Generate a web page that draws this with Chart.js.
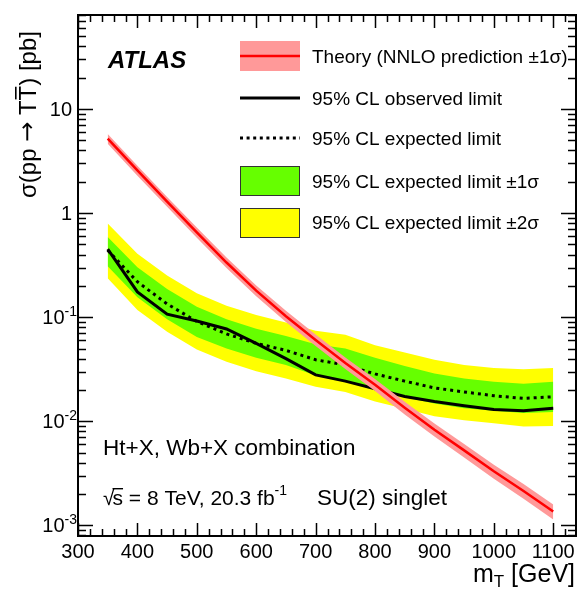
<!DOCTYPE html>
<html>
<head>
<meta charset="utf-8">
<script src="https://cdn.jsdelivr.net/npm/chart.js@4.4.1/dist/chart.umd.min.js"></script>
<style>
  html, body { margin: 0; padding: 0; background: #fff; }
  #limitChart { display: block; }
</style>
</head>
<body>
<canvas id="limitChart" width="577" height="589"></canvas>
<script>
// T mass points [GeV]
const massPoints = [350, 400, 450, 500, 550, 600, 650, 700, 750, 800, 850, 900, 950, 1000, 1050, 1100];

// theory cross-section (NNLO) and its +-1 sigma band [pb]
const theoryXsec = [5.19, 2.57, 1.29, 0.653, 0.335, 0.180, 0.102, 0.0603, 0.0363, 0.0224, 0.0135, 0.0083, 0.00525, 0.00331, 0.00214, 0.00136];
const theoryUp   = [5.75, 2.85, 1.43, 0.728, 0.375, 0.202, 0.115, 0.0680, 0.0410, 0.0254, 0.0154, 0.00950, 0.00604, 0.00383, 0.00249, 0.00159];
const theoryDown = [4.64, 2.29, 1.15, 0.580, 0.296, 0.159, 0.0898, 0.0528, 0.0317, 0.0195, 0.0116, 0.00712, 0.00448, 0.00280, 0.00180, 0.00114];

// 95% CL limits [pb]
const observedLimit = [0.45, 0.175, 0.107, 0.092, 0.077, 0.056, 0.040, 0.0279, 0.0243, 0.0205, 0.0173, 0.0155, 0.0141, 0.0130, 0.01265, 0.0133];
const expectedLimit = [0.44, 0.219, 0.134, 0.091, 0.069, 0.056, 0.048, 0.039, 0.0347, 0.0285, 0.0243, 0.0209, 0.0191, 0.0176, 0.0166, 0.0172];
const expected1sUp   = [0.589, 0.302, 0.186, 0.126, 0.0955, 0.0776, 0.0661, 0.0550, 0.0501, 0.0407, 0.0339, 0.0288, 0.0257, 0.0240, 0.0229, 0.0240];
const expected1sDown = [0.309, 0.155, 0.0955, 0.0646, 0.0501, 0.0407, 0.0347, 0.0275, 0.0245, 0.0200, 0.0170, 0.0148, 0.0133, 0.0126, 0.0120, 0.0123];
const expected2sUp   = [0.794, 0.407, 0.251, 0.170, 0.129, 0.105, 0.0891, 0.0741, 0.0676, 0.0537, 0.0457, 0.0389, 0.0347, 0.0324, 0.0316, 0.0324];
const expected2sDown = [0.237, 0.117, 0.0724, 0.0490, 0.0372, 0.0302, 0.0257, 0.0214, 0.0191, 0.0155, 0.0132, 0.0112, 0.0102, 0.00955, 0.00891, 0.00902];

// axis tick labels
const xTickLabels = ['300', '400', '500', '600', '700', '800', '900', '1000', '1100'];
const yTickLabels = [[0.001, '10', '-3'], [0.01, '10', '-2'], [0.1, '10', '-1'], [1, '1', ''], [10, '10', '']];

const FONT = '"Liberation Sans", Arial, Helvetica, sans-serif';
const YELLOW = '#ffff00';
const GREEN = '#66ff00';
const PINK = '#ff9999';
const RED = '#ff0000';

function pts(values) {
    return massPoints.map((m, i) => ({ x: m, y: values[i] }));
}

function band(values, color, fill, order) {
    return {
        data: pts(values),
        borderWidth: 0,
        pointRadius: 0,
        backgroundColor: color,
        fill: fill,
        order: order
    };
}

// ROOT-style frame, ticks, legend and labels
const rootDecor = {
    id: 'rootDecor',
    afterDatasetsDraw(chart) {
        const ctx = chart.ctx;
        const a = chart.chartArea;
        const xs = chart.scales.x;
        const ys = chart.scales.y;
        ctx.save();

        // frame
        ctx.strokeStyle = '#000';
        ctx.lineWidth = 2;
        ctx.strokeRect(a.left, a.top, a.right - a.left - 1, a.bottom - a.top);

        // x ticks (bottom and top)
        ctx.lineWidth = 1.5;
        ctx.beginPath();
        for (let v = 300; v <= xs.max; v += 20) {
            const px = Math.round(xs.getPixelForValue(v)) + 0.5;
            const len = (v % 100 === 0) ? 13 : 7;
            ctx.moveTo(px, a.bottom); ctx.lineTo(px, a.bottom - len);
            ctx.moveTo(px, a.top); ctx.lineTo(px, a.top + len);
        }
        // y ticks (left and right)
        for (let e = -4; e <= 1; e++) {
            for (let k = 1; k <= 9; k++) {
                const v = k * Math.pow(10, e);
                if (v < ys.min || v > ys.max) continue;
                const py = Math.round(ys.getPixelForValue(v)) + 0.5;
                const len = (k === 1) ? 15 : 8;
                ctx.moveTo(a.left, py); ctx.lineTo(a.left + len, py);
                ctx.moveTo(a.right - 1, py); ctx.lineTo(a.right - 1 - len, py);
            }
        }
        ctx.stroke();

        ctx.fillStyle = '#000';
        // x tick labels
        ctx.font = '20px ' + FONT;
        ctx.textAlign = 'center';
        ctx.textBaseline = 'alphabetic';
        xTickLabels.forEach(t => {
            ctx.fillText(t, xs.getPixelForValue(Number(t)), 558);
        });

        // y tick labels with exponents
        yTickLabels.forEach(([v, base, exp]) => {
            const py = ys.getPixelForValue(v);
            ctx.font = '20px ' + FONT;
            const wb = ctx.measureText(base).width;
            ctx.font = '14px ' + FONT;
            const we = exp ? ctx.measureText(exp).width : 0;
            const right = exp ? 77 : 72;
            ctx.textAlign = 'left';
            ctx.font = '20px ' + FONT;
            ctx.fillText(base, right - we - wb, py + 7);
            if (exp) {
                ctx.font = '14px ' + FONT;
                ctx.fillText(exp, right - we, py - 1);
            }
        });

        // x axis title
        ctx.font = '25px ' + FONT;
        const wm = ctx.measureText('m').width;
        const wr = ctx.measureText(' [GeV]').width;
        ctx.font = '17px ' + FONT;
        const wt = ctx.measureText('T').width;
        let x0 = 575 - wm - wt - wr;
        ctx.textAlign = 'left';
        ctx.font = '25px ' + FONT;
        ctx.fillText('m', x0, 582);
        ctx.font = '17px ' + FONT;
        ctx.fillText('T', x0 + wm, 587);
        ctx.font = '25px ' + FONT;
        ctx.fillText(' [GeV]', x0 + wm + wt, 582);

        // y axis title (rotated)
        ctx.save();
        ctx.translate(36, 198);
        ctx.rotate(-Math.PI / 2);
        ctx.font = '24px ' + FONT;
        const p1 = '\u03c3(pp ';
        const w1 = ctx.measureText(p1).width;
        ctx.fillText(p1, 0, 0);
        ctx.font = '24px "DejaVu Sans", sans-serif';
        const arrow = '\u2192';
        const wa = ctx.measureText(arrow).width;
        ctx.fillText(arrow, w1, -1);
        ctx.font = '24px ' + FONT;
        const p2 = ' T';
        const w2 = ctx.measureText(p2).width;
        const wT = ctx.measureText('T').width;
        let cx = w1 + wa;
        ctx.fillText(p2, cx, 0);
        cx += w2;
        ctx.fillText('T', cx, 0);
        ctx.fillRect(cx + 1, -21, wT - 2, 1.6);
        cx += wT;
        ctx.fillText(') [pb]', cx, 0);
        ctx.restore();

        // ATLAS label
        ctx.font = 'italic bold 24px ' + FONT;
        ctx.fillText('ATLAS', 108, 68);

        // annotations
        ctx.font = '22.5px ' + FONT;
        ctx.fillText('Ht+X, Wb+X combination', 103, 455);
        ctx.font = '21px ' + FONT;
        const root = '\u221a';
        const wRoot = ctx.measureText(root).width - 2;
        ctx.fillText(root, 103, 505);
        const wS = ctx.measureText('s').width;
        ctx.fillText('s = 8 TeV, 20.3 fb', 103 + wRoot, 505);
        const wfb = ctx.measureText('s = 8 TeV, 20.3 fb').width;
        ctx.fillRect(103 + wRoot, 488, wS, 1.4);
        ctx.font = '14px ' + FONT;
        ctx.fillText('-1', 103 + wRoot + wfb, 495);
        ctx.font = '22.5px ' + FONT;
        ctx.fillText('SU(2) singlet', 317, 505);

        // legend
        const lx = 240, lw = 60, tx = 312;
        ctx.fillStyle = PINK;
        ctx.fillRect(lx, 41, lw, 30);
        ctx.strokeStyle = RED;
        ctx.lineWidth = 2.5;
        ctx.beginPath(); ctx.moveTo(lx, 56); ctx.lineTo(lx + lw, 56); ctx.stroke();

        ctx.strokeStyle = '#000';
        ctx.lineWidth = 3;
        ctx.beginPath(); ctx.moveTo(lx, 98); ctx.lineTo(lx + lw, 98); ctx.stroke();
        ctx.setLineDash([3, 3.6]);
        ctx.beginPath(); ctx.moveTo(lx, 138); ctx.lineTo(lx + lw, 138); ctx.stroke();
        ctx.setLineDash([]);

        ctx.lineWidth = 1;
        ctx.fillStyle = GREEN;
        ctx.fillRect(lx, 166, lw, 30);
        ctx.strokeStyle = '#333';
        ctx.strokeRect(lx + 0.5, 166.5, lw - 1, 29);
        ctx.fillStyle = YELLOW;
        ctx.fillRect(lx, 208, lw, 30);
        ctx.strokeRect(lx + 0.5, 208.5, lw - 1, 29);

        ctx.fillStyle = '#000';
        ctx.font = '19px ' + FONT;
        ctx.fillText('Theory (NNLO prediction \u00b11\u03c3)', tx, 63);
        ctx.fillText('95% CL observed limit', tx, 105);
        ctx.fillText('95% CL expected limit', tx, 145);
        ctx.fillText('95% CL expected limit \u00b11\u03c3', tx, 188);
        ctx.fillText('95% CL expected limit \u00b12\u03c3', tx, 229);

        ctx.restore();
    }
};

new Chart(document.getElementById('limitChart'), {
    type: 'line',
    data: {
        datasets: [
            band(expected2sUp, YELLOW, '+1', 6),
            band(expected2sDown, YELLOW, false, 6),
            band(expected1sUp, GREEN, '+1', 5),
            band(expected1sDown, GREEN, false, 5),
            {
                data: pts(expectedLimit),
                borderColor: '#000',
                borderWidth: 3,
                borderDash: [3, 4],
                pointRadius: 0,
                fill: false,
                order: 4
            },
            {
                data: pts(observedLimit),
                borderColor: '#000',
                borderWidth: 3,
                pointRadius: 0,
                fill: false,
                order: 3
            },
            band(theoryUp, PINK, '+1', 2),
            band(theoryDown, PINK, false, 2),
            {
                data: pts(theoryXsec),
                borderColor: RED,
                borderWidth: 2.5,
                pointRadius: 0,
                fill: false,
                order: 1
            }
        ]
    },
    options: {
        responsive: false,
        animation: false,
        events: [],
        layout: { padding: { left: 78, top: 15, right: 0, bottom: 53 } },
        scales: {
            x: { type: 'linear', min: 300, max: 1140, display: false },
            y: { type: 'logarithmic', min: 0.00079, max: 80, display: false }
        },
        plugins: {
            legend: { display: false },
            tooltip: { enabled: false }
        }
    },
    plugins: [rootDecor]
});
</script>
</body>
</html>
